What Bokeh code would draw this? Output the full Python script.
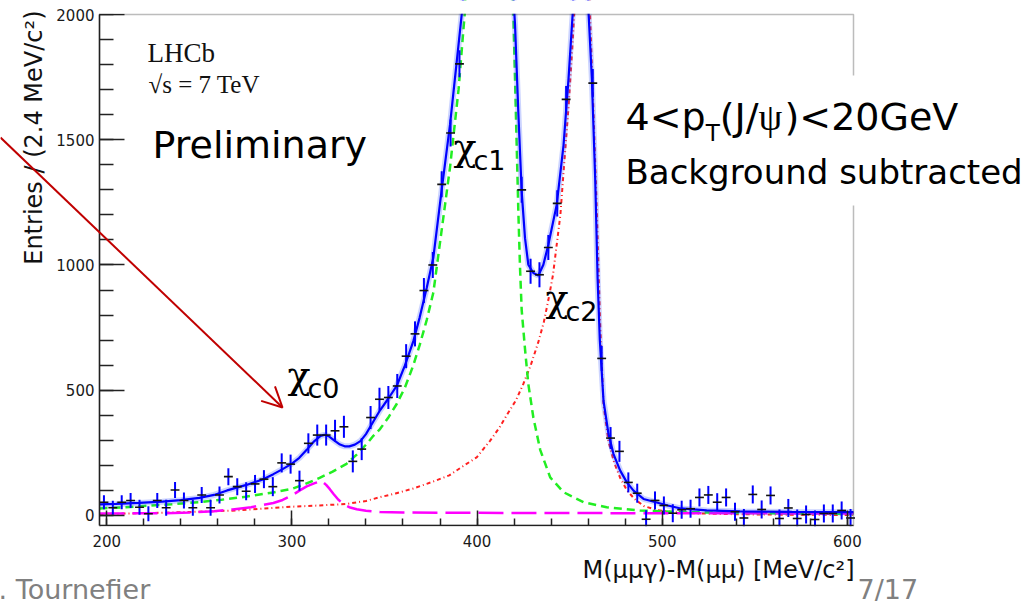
import numpy as np
from bokeh.plotting import figure
from bokeh.models import (Range1d, SingleIntervalTicker, Label, Arrow, OpenHead,
                          BoxAnnotation, ColumnDataSource)
from bokeh.embed import file_html
from bokeh.resources import INLINE

# ---------------- data ----------------
# background-subtracted M(mu mu gamma) - M(mu mu) spectrum, 4.8 MeV bins
bin_width = 4.8
first_center = 198.5
counts = [53, 31, 53, 60, 33, 7, 60, 31, 102, 60,
          31, 82, 31, 82, 155, 115, 97, 126, 145, 115,
          210, 205, 139, 288, 321, 321, 338, 354, 216, 265,
          391, 464, 471, 517, 636, 725, 898, 1000, 1322, 1527,
          1803, 2650, 3550, 4300, 4050, 3100, 2150, 1300, 975, 961,
          1070, 1246, 1661, 2300, 2950, 1726, 627, 309, 256, 132,
          89, -15, 60, 40, 9, 23, 27, 72, 82, 53,
          72, 15, -10, 84, 24, 80, -12, 30, -12, 4,
          -16, 8, 8, 20, -10]
errors = [28, 28, 28, 30, 30, 30, 30, 32, 32, 32,
          32, 32, 32, 34, 34, 34, 36, 36, 36, 38,
          38, 38, 40, 40, 42, 42, 44, 44, 44, 44,
          46, 46, 46, 48, 48, 50, 50, 52, 52, 54,
          54, 56, 58, 60, 60, 58, 56, 52, 50, 50,
          50, 52, 54, 56, 58, 56, 50, 44, 42, 40,
          38, 36, 36, 36, 36, 36, 36, 36, 36, 36,
          36, 36, 36, 36, 36, 36, 36, 36, 36, 36,
          36, 36, 36, 36, 36]

# total fit
total_x = [196.1, 205, 217.5, 230, 240, 250, 258, 265, 275, 283.6,
           290, 295, 300, 304, 308, 312, 315.5, 317.5, 320, 323,
           326, 328.5, 331, 334, 337, 340, 344, 347.6, 352, 356.6,
           361, 365.6, 369, 372.8, 376.4, 380.9, 385.4, 390, 392.3, 395,
           400, 404, 408, 412, 416, 419, 420.5, 422.3, 424.1, 425.9,
           427.7, 430.4, 433.1, 435.8, 438.5, 443, 446.7, 449.4, 451.7, 454,
           456, 458, 460.2, 462, 463.8, 465.1, 466.3, 468.3, 471, 473.7,
           477.3, 480.9, 484.5, 489.9, 497, 503, 510, 524, 542, 570, 603.3]
total_y = [44, 46, 50, 55, 61, 70, 82, 100, 121, 142,
           165, 185, 207, 230, 262, 296, 318, 322, 316, 299,
           283, 276, 276, 283, 297, 325, 375, 420, 466, 517,
           598, 696, 790, 908, 1030, 1300, 1560, 1880, 2040, 2650,
           3600, 4200, 4050, 3400, 2700, 2150, 1960, 1608, 1293, 1107,
           1001, 968, 958, 1001, 1081, 1240, 1478, 1744, 2009, 2500,
           2800, 2650, 2009, 1744, 1346, 948, 700, 457, 325, 245,
           179, 132, 99, 66, 52, 40, 28, 20, 16, 14, 13]

# chi_c1 component
chic1_x = [196.1, 210, 220, 235, 250, 262, 275, 290, 300, 307,
           315, 322, 329.5, 335, 340.3, 344, 347.6, 352, 356.6, 361,
           365.6, 369, 372.8, 376.4, 380.9, 385.4, 390, 393.3, 396, 400,
           404, 408, 412, 416, 419.6, 420.5, 421.4, 422.3, 423.2, 424.1,
           426, 427.7, 430.4, 434.1, 439.5, 446.7, 457.5, 470, 488, 510,
           540, 603.3]
chic1_y = [28, 33, 38, 45, 53, 63, 75, 92, 106, 125,
           150, 175, 206, 243, 285, 318, 345, 390, 445, 510,
           600, 680, 780, 890, 1140, 1390, 1700, 2000, 2500, 3300,
           3900, 3800, 3200, 2600, 2009, 1744, 1478, 1213, 990, 820,
           656, 524, 391, 262, 152, 93, 53, 33, 20, 14,
           10, 6]

# chi_c2 component
chic2_x = [196.1, 220, 250, 270, 283.6, 293.5, 300, 315, 329.5, 340,
           347.6, 356, 365.6, 375, 385, 392, 399.8, 407, 412, 416,
           421, 425, 429, 433, 436, 438.5, 441, 443, 445, 446.7,
           449.4, 451.7, 453, 455, 457, 459, 461.1, 462.9, 464.7, 466.5,
           468.3, 471, 474, 477.3, 481, 485, 490, 497, 505, 520,
           540, 570, 603.3]
chic2_y = [6, 9, 15, 20, 27, 32, 35, 40, 46, 58,
           73, 88, 108, 132, 160, 195, 232, 298, 350, 400,
           460, 525, 600, 690, 770, 860, 960, 1080, 1200, 1370,
           1630, 1900, 2080, 2600, 2850, 2600, 1982, 1608, 1213, 763,
           440, 295, 212, 150, 100, 66, 38, 22, 14, 8,
           5, 3, 2]

# chi_c0 component
chic0_x = [196.1, 230, 245, 258, 268, 278, 290, 295, 300, 304.3,
           308, 312, 316, 318.5, 320.5, 322.5, 325, 327.7, 331, 335,
           340, 347.6, 360, 380, 420, 500, 603.3]
chic0_y = [8, 9, 12, 17, 24, 33, 50, 62, 80, 100,
           116, 128, 138, 122, 105, 86, 64, 46, 33, 25,
           19, 14, 12, 11, 10, 9, 8]

x_lo, x_hi = 196.1, 603.3
y_lo, y_hi = -40, 2000
x_ticks_step = 100
y_ticks_step = 500

# ---------------- page geometry (canvas pixels) ----------------
W, H = 1027, 604
F_LEFT, F_RIGHT, F_TOP, F_BOTTOM = 99, 853, 14, 525   # histogram frame

kx = (F_RIGHT - F_LEFT) / (x_hi - x_lo)
ky = (F_BOTTOM - F_TOP) / (y_hi - y_lo)
page_x = Range1d(x_lo - F_LEFT / kx, x_hi + (W - F_RIGHT) / kx)
page_y = Range1d(y_lo - (H - F_BOTTOM) / ky, y_hi + F_TOP / ky)


def scr(X, Y):
    """canvas pixel (from top-left) -> screen units of the page-wide frame"""
    return X, H - Y


p = figure(width=W, height=H, x_range=page_x, y_range=page_y, title=None,
           output_backend="svg", toolbar_location=None,
           min_border=0, min_border_left=0, min_border_right=0,
           min_border_top=0, min_border_bottom=0)
p.grid.visible = False
p.background_fill_color = "white"
p.border_fill_color = "white"
p.outline_line_color = None

# axes sit on the histogram frame
p.xaxis.fixed_location = y_lo
p.yaxis.fixed_location = x_lo
p.xaxis.bounds = (x_lo, x_hi)
p.yaxis.bounds = (y_lo, y_hi)
p.xaxis.ticker = SingleIntervalTicker(interval=x_ticks_step, num_minor_ticks=5)
p.yaxis.ticker = SingleIntervalTicker(interval=y_ticks_step, num_minor_ticks=5)
for ax in (p.xaxis[0], p.yaxis[0]):
    ax.axis_line_color = "#222222"
    ax.axis_line_width = 1.5
    ax.major_tick_line_color = "#222222"
    ax.major_tick_line_width = 1.5
    ax.minor_tick_line_color = "#222222"
    ax.minor_tick_line_width = 1.5
    ax.major_tick_out = 0
    ax.minor_tick_out = 0
    ax.major_label_text_font = "DejaVu Sans"
    ax.major_label_text_font_size = "15px"
    ax.major_label_text_color = "#1a1a1a"
p.yaxis.major_tick_in = 25
p.yaxis.minor_tick_in = 14
p.yaxis.major_label_standoff = 5
p.xaxis.major_tick_in = 15
p.xaxis.minor_tick_in = 7
p.xaxis.major_label_standoff = 9

# ---------------- fit components ----------------
p.line(chic2_x, chic2_y, line_color="#ff2020", line_width=2, line_dash="4 3 1 3")
p.line(chic1_x, chic1_y, line_color="#22ee22", line_width=2.5, line_dash="8 5")
p.line(chic0_x, chic0_y, line_color="#ff00ff", line_width=2.5, line_dash="25 8")
p.line(total_x, total_y, line_color="#3355ff", line_width=6, line_alpha=0.25)
p.line(total_x, total_y, line_color="#0000ff", line_width=2.2)

# ---------------- data points ----------------
centers = first_center + bin_width * np.arange(len(counts))
c = np.array(counts, dtype=float)
e = np.array(errors, dtype=float)
src = ColumnDataSource(dict(x=centers, y=c, lo=c - e, hi=c + e,
                            xl=centers - bin_width / 2, xr=centers + bin_width / 2))
p.segment(x0="x", y0="lo", x1="x", y1="hi", source=src, line_color="#0000ff", line_width=2)
p.segment(x0="xl", y0="y", x1="xr", y1="y", source=src, line_color="#111111", line_width=1.6)


def box(X0, Y0, X1, Y1, **kw):
    l, b = scr(X0, Y1)
    r, t = scr(X1, Y0)
    p.add_layout(BoxAnnotation(left=l, right=r, bottom=b, top=t,
                               left_units="screen", right_units="screen",
                               bottom_units="screen", top_units="screen", **kw))


# keep everything outside the histogram frame blank
box(F_LEFT, 0, F_RIGHT, F_TOP - 0.8, fill_color="white", fill_alpha=1.0, line_color=None)
box(F_LEFT + 1, F_BOTTOM + 0.8, F_RIGHT, F_BOTTOM + 8, fill_color="white", fill_alpha=1.0,
    line_color=None)
# frame of the histogram
p.add_layout(BoxAnnotation(left=x_lo, right=x_hi, bottom=y_lo, top=y_hi,
                           fill_alpha=0.0, line_color="#222222", line_width=1.5))
# slide text box
box(613, 75, W, 205, fill_color="white", fill_alpha=1.0, line_color=None)

BASELINE_SHIFT = 0.35   # in em: lifts Label text onto the wanted baseline


def text(X, Y, s, font, size, color="#000000", align="left", angle=0.0):
    lift = BASELINE_SHIFT * size
    if angle:
        X = X - lift
    else:
        Y = Y - lift
    sx, sy = scr(X, Y)
    p.add_layout(Label(x=sx, y=sy, x_units="screen", y_units="screen", text=s,
                       text_font=font, text_font_size=f"{size}px", text_color=color,
                       text_align=align, text_baseline="alphabetic", angle=angle))


# histogram annotations
text(147, 62, "LHCb", "Liberation Serif", 27, "#111111")
text(148, 93, "√s = 7 TeV", "Liberation Serif", 25, "#111111")
text(854, 578, "M(μμγ)-M(μμ) [MeV/c²]", "DejaVu Sans", 24, "#111111", align="right")
text(42, 10, "Entries / (2.4 MeV/c²)", "DejaVu Sans", 24, "#111111",
     align="right", angle=np.pi / 2)

# slide annotations
text(152, 158, "Preliminary", "DejaVu Sans", 38)
for cx, cy, sub in ((453, 160, "c1"), (545, 311, "c2"), (287, 388, "c0")):
    text(cx, cy, "χ", "DejaVu Serif", 38)
    text(cx + 20, cy + 9, sub, "DejaVu Sans", 27)

F = 38
text(625, 130, "4<p", "DejaVu Sans", F)
text(625 + 2.109 * F, 141, "T", "DejaVu Sans", 23)
x_j = 625 + 2.109 * F + 14
text(x_j, 130, "(J/", "DejaVu Sans", F)
x_psi = x_j + 1.022 * F
text(x_psi, 130, "ψ", "Liberation Serif", F)
text(x_psi + 26, 130, ")<20GeV", "DejaVu Sans", F)
text(625, 183, "Background subtracted", "DejaVu Sans", 34)

text(-19, 598, "E. Tournefier", "DejaVu Sans", 27, "#808080")
text(857, 598, "7/17", "DejaVu Sans", 27, "#808080")

# arrow pointing at the chi_c0 bump
ax0, ay0 = scr(0, 137)
ax1, ay1 = scr(282, 407)
p.add_layout(Arrow(x_start=ax0, y_start=ay0, x_end=ax1, y_end=ay1,
                   start_units="screen", end_units="screen",
                   line_color="#c00000", line_width=2,
                   end=OpenHead(size=20, line_color="#c00000", line_width=2)))

open("out.html", "w").write(file_html(p, INLINE))
